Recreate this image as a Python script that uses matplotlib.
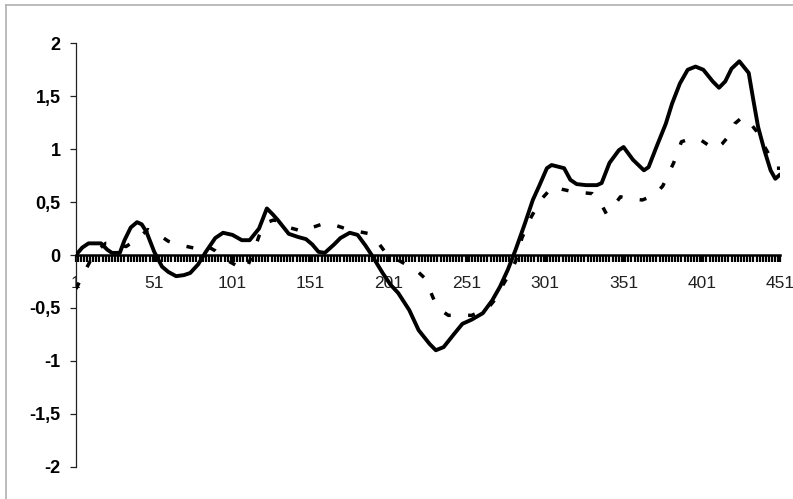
import matplotlib
matplotlib.use("Agg")
import matplotlib.pyplot as plt
from matplotlib.lines import Line2D
from matplotlib.ticker import FixedLocator, MultipleLocator

plt.rcParams['font.family'] = ['Liberation Sans', 'DejaVu Sans']

# Solid series (observation index, value)
solid_x = [1, 5, 9, 13, 17, 21, 24, 29, 32, 36, 40, 43, 46, 51, 56, 60, 65, 70, 74, 79,
           84, 90, 95, 101, 107, 112, 118, 123, 127, 130, 137, 143, 148, 152, 156, 160,
           166, 170, 176, 181, 186, 190, 197, 202, 207, 214, 220, 227, 231, 236, 243,
           248, 254, 261, 267, 272, 277, 282, 288, 293, 297, 302, 305, 313, 317, 321,
           327, 334, 337, 342, 348, 351, 357, 364, 367, 372, 378, 382, 387, 392, 397,
           402, 408, 412, 416, 420, 425, 431, 434, 437, 441, 445, 448, 451]
solid_y = [0.0, 0.07, 0.11, 0.11, 0.11, 0.05, 0.02, 0.02, 0.14, 0.26, 0.31, 0.29, 0.22,
           0.03, -0.11, -0.16, -0.2, -0.19, -0.17, -0.09, 0.03, 0.16, 0.21, 0.19, 0.14,
           0.14, 0.25, 0.44, 0.38, 0.33, 0.2, 0.17, 0.15, 0.1, 0.03, 0.02, 0.1, 0.16,
           0.21, 0.19, 0.09, 0.0, -0.17, -0.28, -0.36, -0.52, -0.71, -0.84, -0.9, -0.87,
           -0.74, -0.65, -0.61, -0.55, -0.43, -0.3, -0.14, 0.05, 0.3, 0.52, 0.65, 0.82,
           0.85, 0.82, 0.71, 0.67, 0.66, 0.66, 0.68, 0.87, 0.99, 1.02, 0.9, 0.8, 0.83,
           1.02, 1.24, 1.43, 1.62, 1.75, 1.78, 1.75, 1.64, 1.58, 1.64, 1.76, 1.83, 1.72,
           1.46, 1.21, 0.99, 0.8, 0.72, 0.76]

# Dashed series (observation index, value)
dash_x = [1, 5, 10, 15, 20, 27, 33, 40, 47, 53, 60, 66, 72, 78, 84, 90, 95, 100, 106,
          110, 115, 118, 122, 127, 132, 137, 142, 146, 152, 160, 167, 175, 182, 189,
          195, 199, 206, 212, 219, 224, 230, 234, 239, 246, 254, 260, 265, 270, 274,
          278, 282, 286, 292, 298, 306, 312, 318, 324, 331, 336, 340, 345, 349, 355,
          363, 370, 376, 383, 388, 394, 400, 406, 410, 414, 418, 422, 426, 429, 436,
          442, 449, 451]
dash_y = [-0.32, -0.2, -0.06, 0.05, 0.11, 0.1, 0.08, 0.15, 0.24, 0.2, 0.13, 0.1, 0.08,
          0.06, 0.09, 0.04, -0.03, -0.07, -0.12, -0.13, 0.05, 0.18, 0.3, 0.33, 0.32,
          0.26, 0.24, 0.22, 0.26, 0.3, 0.28, 0.24, 0.22, 0.2, 0.1, 0.02, -0.04, -0.09,
          -0.15, -0.22, -0.43, -0.52, -0.57, -0.57, -0.57, -0.53, -0.49, -0.4, -0.28,
          -0.18, -0.06, 0.16, 0.36, 0.52, 0.65, 0.62, 0.6, 0.59, 0.58, 0.5, 0.39, 0.47,
          0.55, 0.53, 0.52, 0.56, 0.65, 0.87, 1.07, 1.1, 1.09, 1.03, 1.0, 1.05, 1.12,
          1.24, 1.29, 1.3, 1.17, 1.0, 0.82, 0.82]

x_tick_values = [1, 51, 101, 151, 201, 251, 301, 351, 401, 451]
y_tick_values = [-2, -1.5, -1, -0.5, 0, 0.5, 1, 1.5, 2]
y_tick_labels = ['-2', '-1,5', '-1', '-0,5', '0', '0,5', '1', '1,5', '2']

W, H = 793, 499
fig = plt.figure(figsize=(W / 100, H / 100), dpi=100)
fig.patch.set_facecolor('white')

# chart-area frame (left and top edges visible)
frame_col = '#b0b0b0'
fig.add_artist(Line2D([5.5 / W, 5.5 / W], [0, 1 - 4.7 / H], color=frame_col, lw=1.2))
fig.add_artist(Line2D([5.5 / W, 1], [1 - 4.7 / H, 1 - 4.7 / H], color=frame_col, lw=1.2))

ax = fig.add_axes([76 / W, 32.3 / H, (780 - 76) / W, (466.7 - 43.3) / H])
ax.set_facecolor('none')

ax.plot(dash_x, dash_y, color='black', lw=2.5, linestyle=(0, (2.0, 5.0)),
        dash_capstyle='butt', zorder=3)
ax.plot(solid_x, solid_y, color='black', lw=2.8, solid_joinstyle='round',
        solid_capstyle='round', zorder=4)

ax.set_xlim(1, 451)
ax.set_ylim(-2, 2)

for s in ('top', 'right'):
    ax.spines[s].set_visible(False)
ax.spines['left'].set_linewidth(0.9)
ax.spines['left'].set_color('#222222')
ax.spines['bottom'].set_position(('data', 0))
ax.spines['bottom'].set_linewidth(1.8)
ax.spines['bottom'].set_color('black')

ax.xaxis.set_major_locator(FixedLocator(x_tick_values))
ax.xaxis.set_minor_locator(MultipleLocator(2))
ax.set_xticklabels([str(v) for v in x_tick_values])
ax.tick_params(axis='x', which='both', direction='out', length=5, width=1.6,
               color='black')
ax.tick_params(axis='x', which='major', pad=10, labelsize=12.5, labelcolor='#202020')

ax.set_yticks(y_tick_values)
ax.set_yticklabels(y_tick_labels, fontweight='bold')
ax.tick_params(axis='y', direction='out', length=4, width=0.9, color='#222222',
               pad=7, labelsize=13, labelcolor='black')

fig.savefig('out.png', dpi=100, facecolor='white')
